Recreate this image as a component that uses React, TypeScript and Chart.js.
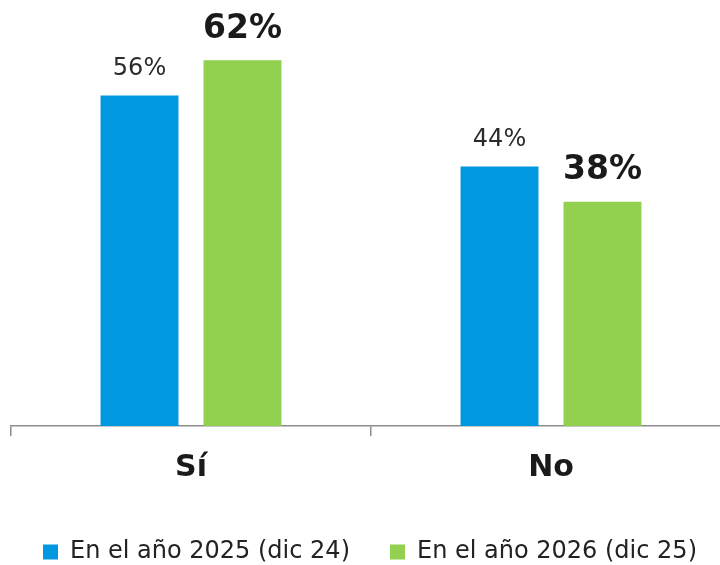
import React, { useEffect, useRef } from "react";
import { Chart, registerables } from "chart.js";

Chart.register(...registerables);

const categories = ["Sí", "No"];
const seriesNames = ["En el año 2025 (dic 24)", "En el año 2026 (dic 25)"];
const series2025 = [56, 44];
const series2026 = [62, 38];
const colors = ["#0098DF", "#92D050"];

const FONT = "'DejaVu Sans', sans-serif";

const labelPlugin = {
  id: "barLabels",
  afterDatasetsDraw(chart: any) {
    const ctx = chart.ctx;
    chart.data.datasets.forEach((ds: any, di: number) => {
      const meta = chart.getDatasetMeta(di);
      meta.data.forEach((bar: any, i: number) => {
        const v = ds.data[i];
        ctx.save();
        ctx.textAlign = "center";
        ctx.textBaseline = "middle";
        if (di === 0) {
          ctx.font = `400 24px ${FONT}`;
          ctx.fillStyle = "#2b2b2b";
          ctx.fillText(`${v}%`, bar.x, bar.y - 27);
        } else {
          ctx.font = `700 33px ${FONT}`;
          ctx.fillStyle = "#1a1a1a";
          ctx.fillText(`${v}%`, bar.x, bar.y - 31);
        }
        ctx.restore();
      });
    });
  },
};

const hiddenAxis = (w: number, position: string) => ({
  display: true,
  position,
  min: 0,
  max: 70,
  grid: { display: false, drawTicks: false },
  border: { display: false },
  ticks: { display: false },
  afterFit(scale: any) {
    scale.width = w;
  },
});

export default function App() {
  const ref = useRef<HTMLCanvasElement>(null);
  useEffect(() => {
    if (!ref.current) return;
    const chart = new Chart(ref.current, {
      type: "bar",
      data: {
        labels: categories,
        datasets: [
          {
            label: seriesNames[0],
            data: series2025,
            backgroundColor: colors[0],
            categoryPercentage: 0.572,
            barPercentage: 0.757,
            yAxisID: "y",
          },
          {
            label: seriesNames[1],
            data: series2026,
            backgroundColor: colors[1],
            categoryPercentage: 0.572,
            barPercentage: 0.757,
            yAxisID: "y",
          },
        ],
      },
      options: {
        animation: false,
        responsive: true,
        maintainAspectRatio: false,
        layout: { padding: { left: 0, right: 0, top: 13, bottom: 0 } },
        plugins: {
          legend: {
            position: "bottom",
            labels: {
              boxWidth: 15,
              boxHeight: 15,
              padding: 40,
              color: "#222222",
              font: { family: FONT, size: 24, weight: 400 },
            },
          },
          tooltip: { enabled: false },
        },
        scales: {
          x: {
            grid: {
              display: true,
              drawOnChartArea: false,
              drawTicks: true,
              tickLength: 10,
              color: "#8c8c8c",
              lineWidth: 1.5,
              offset: true,
            },
            border: { display: true, color: "#8c8c8c", width: 1.5 },
            ticks: {
              color: "#1a1a1a",
              padding: 14,
              font: { family: FONT, size: 30, weight: 700 },
            },
          },
          y: hiddenAxis(11, "left") as any,
          y2: hiddenAxis(9, "right") as any,
        },
      },
      plugins: [labelPlugin],
    });
    return () => chart.destroy();
  }, []);
  return (
    <div style={{ position: "absolute", left: 0, top: 0, width: 720, height: 565, overflow: "hidden", background: "#fff" }}>
      <div style={{ position: "relative", width: 740, height: 574 }}>
        <canvas ref={ref} />
      </div>
    </div>
  );
}
